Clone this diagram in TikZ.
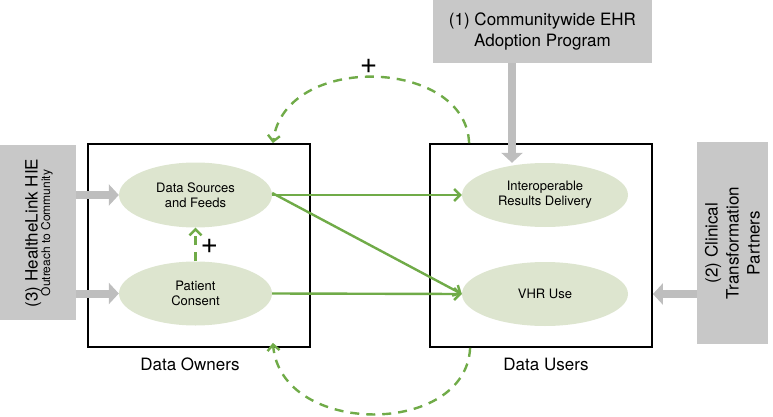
\documentclass[tikz,border=0pt]{standalone}
\usepackage{fontspec}
\setmainfont{TeX Gyre Heros}
\usetikzlibrary{positioning, shapes.geometric, arrows.meta}

\definecolor{boxgray}{RGB}{200,200,200}
\definecolor{arrgray}{RGB}{190,190,190}
\definecolor{leafgreen}{RGB}{112,171,72}
\definecolor{paleleaf}{RGB}{221,229,207}

\tikzset{
    graybox/.style={fill=boxgray, minimum width=#1},
    grouping/.style={draw=black, line width=1.8pt, minimum width=222pt, minimum height=203pt},
    activity/.style={ellipse, fill=paleleaf, inner sep=0pt, align=center,
        font=\fontsize{13}{15}\selectfont},
    feed/.style={draw=arrgray, line width=8pt, -{Triangle[length=10pt,width=21pt]}},
    effect/.style={draw=leafgreen, line width=2.4pt, -{Straight Barb[length=6pt,width=12pt]}},
    loop/.style={draw=leafgreen, line width=2.4pt, dash pattern=on 9pt off 7pt,
        -{Straight Barb[length=6pt,width=12pt]}},
    bigtext/.style={font=\fontsize{17}{21}\selectfont, align=center},
    plus/.style={font=\fontsize{30}{30}\selectfont, inner sep=0pt}
}

\begin{document}
\begin{tikzpicture}[x=1pt, y=-1pt]
            \useasboundingbox (0,0) rectangle (773,417);

            % outside programs
            \node [graybox=219pt, minimum height=63pt] (ehr) at (542.5, 31.5) {};
            \node [bigtext] (ehrtext) at (ehr) {(1) Communitywide EHR\\Adoption Program};
            \node [graybox=76pt, minimum height=175pt] (hie) at (38, 232.5) {};
            \node [rotate=90, align=center] (hietext) at (39, 233)
                {{\fontsize{17}{18}\selectfont (3) HealtheLink HIE}\\[-1pt]{\fontsize{12}{13}\selectfont Outreach to Community}};
            \node [graybox=71pt, minimum height=202pt] (partners) at (732.5, 243) {};
            \node [bigtext, rotate=90] (partnerstext) at (partners) {(2) Clinical\\Transformation\\Partners};

            % the two groups
            \node [grouping] (owners) at (199, 245.5) {};
            \node [grouping] (users) at (541, 245.5) {};
            \node [bigtext] (ownerslabel) at (190, 364) {Data Owners};
            \node [bigtext] (userslabel) at (546, 364) {Data Users};

            \node [activity, minimum width=153pt, minimum height=65pt] (src) at (195.5, 195) {Data Sources\\and Feeds};
            \node [activity, minimum width=153pt, minimum height=64pt] (consent) at (195.5, 293.5) {Patient\\Consent};
            \node [activity, minimum width=166pt, minimum height=64pt] (interop) at (545, 195) {Interoperable\\Results Delivery};
            \node [activity, minimum width=166pt, minimum height=64pt] (vhr) at (545, 294) {VHR Use};

            % gray inputs
            \draw [feed] (hie.east |- src) -- (src.west);
            \draw [feed] (hie.east |- consent) -- (consent.west);
            \draw [feed] ([xshift=-30.5pt]ehr.south) -- ([xshift=-30.5pt]ehr.south |- interop.north);
            \draw [feed] (partners.west |- vhr) -- (users.east |- vhr);

            % green effects
            \draw [effect] (src.east) -- (interop.west);
            \draw [effect] ([yshift=2pt]src.east) -- (vhr.west);
            \draw [effect] (consent.east) -- (vhr.west);
            \draw [loop] (consent.north) -- (src.south) node [plus, pos=0.45, right=4pt] {+};

            % feedback loops
            \draw [loop] ([xshift=40pt]users.north west) .. controls (466,58) and (285,52) .. ([xshift=-38pt]owners.north east)
                node [plus, pos=0.52, above=2pt] {+};
            \draw [loop] ([xshift=41pt]users.south west) .. controls (466,437) and (281,437) .. ([xshift=-38pt, yshift=5pt]owners.south east);
        \end{tikzpicture}
\end{document}
